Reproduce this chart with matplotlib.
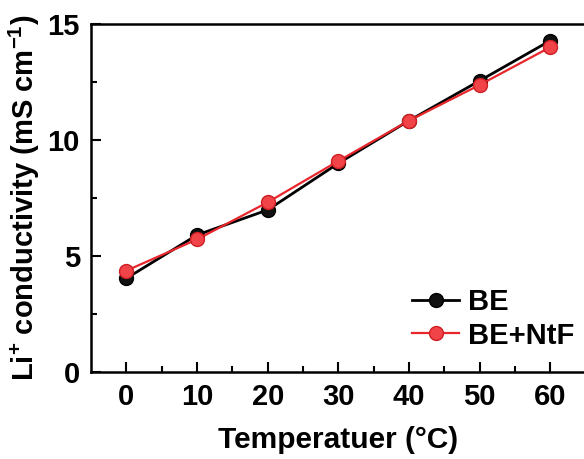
import matplotlib.pyplot as plt

plt.rcParams['font.family'] = ['Liberation Sans', 'DejaVu Sans']
plt.rcParams['font.weight'] = 'bold'
plt.rcParams['mathtext.fontset'] = 'custom'
plt.rcParams['mathtext.rm'] = 'Liberation Sans:bold'
plt.rcParams['mathtext.bf'] = 'Liberation Sans:bold'
plt.rcParams['mathtext.default'] = 'bf'

temps = [0, 10, 20, 30, 40, 50, 60]
be = [4.03, 5.90, 6.98, 8.99, 10.83, 12.55, 14.28]
be_ntf = [4.36, 5.71, 7.31, 9.09, 10.83, 12.37, 14.0]

fig = plt.figure(figsize=(5.84, 4.59), dpi=100)
ax = fig.add_axes([0.156, 0.19, 0.847, 0.758])

ax.plot(temps, be, color='black', lw=2, marker='o', ms=10,
        mfc='#111111', mec='black', label='BE')
ax.plot(temps, be_ntf, color='#e8262b', lw=1.6, marker='o', ms=10,
        mfc='#f04448', mec='#d01f24', label='BE+NtF')

ax.set_xlim(-5, 65)
ax.set_ylim(0, 15)
ax.set_xticks([0, 10, 20, 30, 40, 50, 60])
ax.set_xticks([5, 15, 25, 35, 45, 55], minor=True)
ax.set_yticks([0, 5, 10, 15])
ax.set_yticks([2.5, 7.5, 12.5], minor=True)
ax.tick_params(which='both', direction='in', width=1.5, labelsize=21, pad=8)
ax.tick_params(which='major', length=7)
ax.tick_params(which='minor', length=4)
for s in ax.spines.values():
    s.set_linewidth(1.8)

ax.set_xlabel('Temperatuer (°C)', fontsize=21.5, fontweight='bold', labelpad=11)
ax.set_ylabel('Li$^{+}$ conductivity (mS cm$^{-1}$)', fontsize=21,
              fontweight='bold', labelpad=4)

ax.legend(loc='lower right', bbox_to_anchor=(1.0, 0.03), frameon=False,
          fontsize=21, handlelength=1.6, handletextpad=0.3, labelspacing=0.2,
          borderaxespad=0)

fig.savefig('out.png', dpi=100)
